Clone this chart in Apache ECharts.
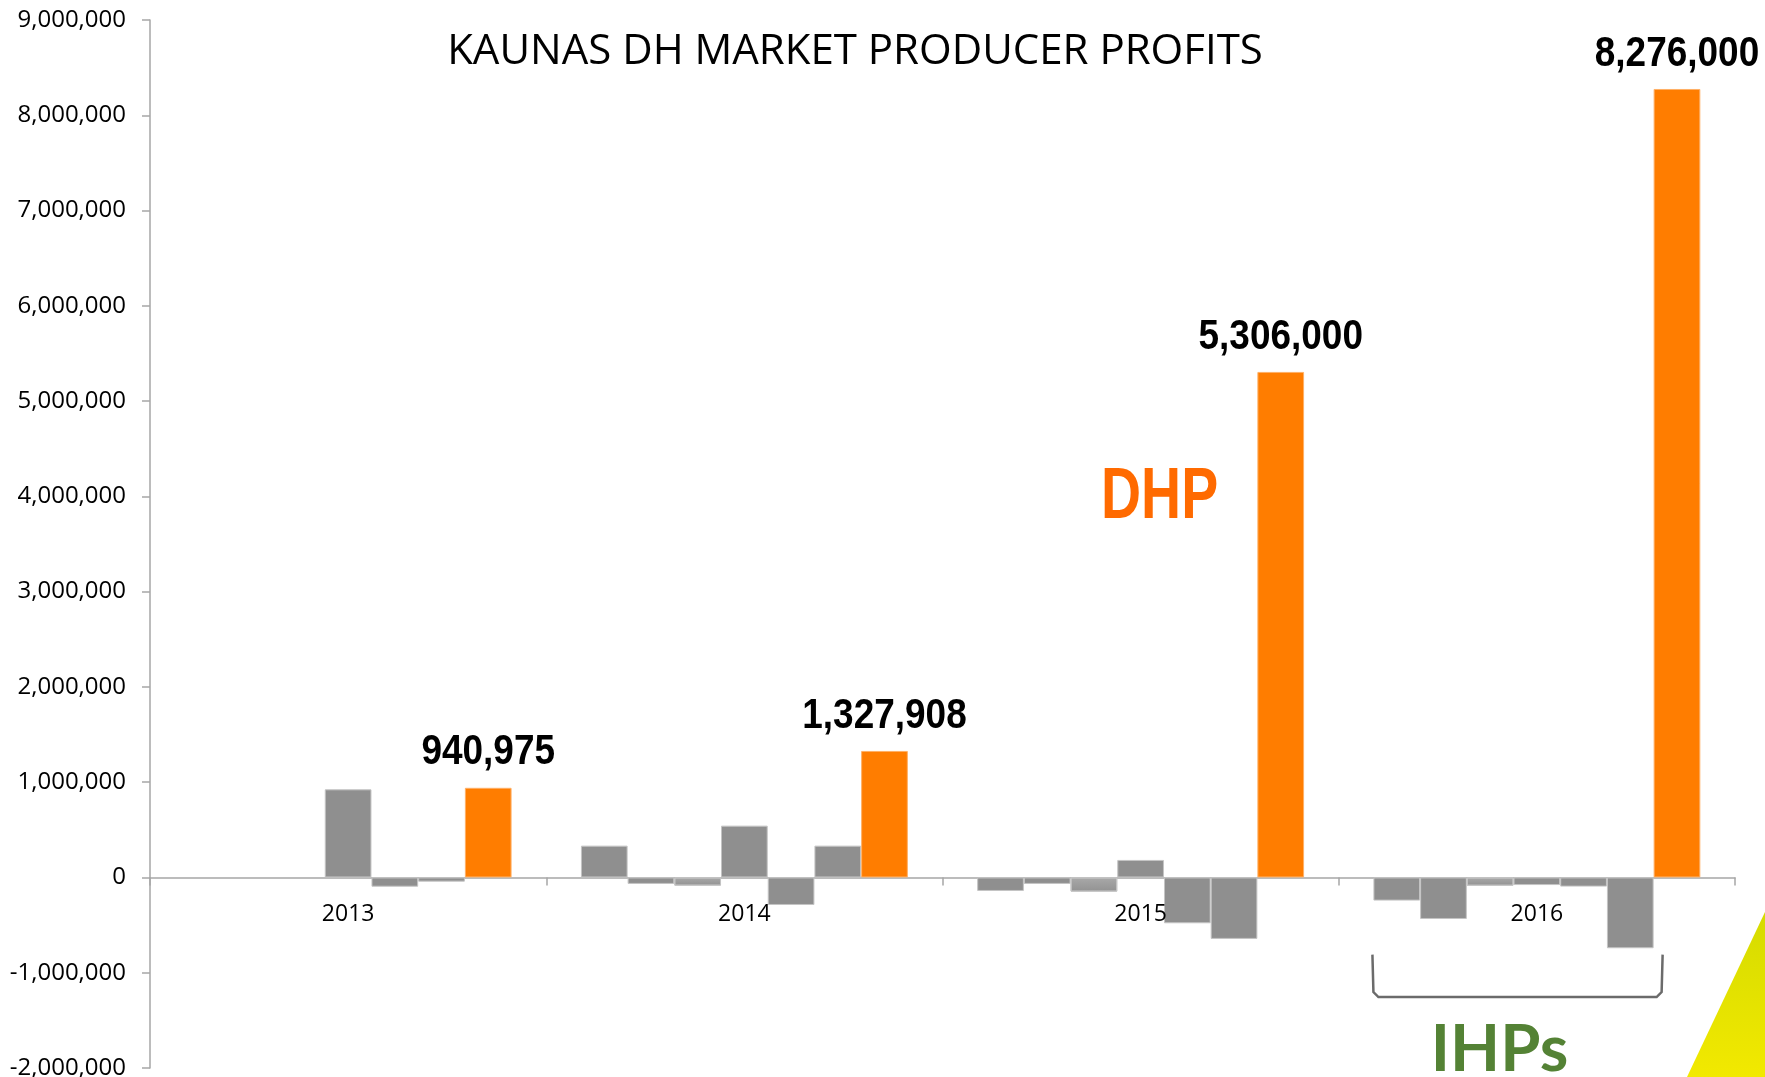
<!DOCTYPE html>
<html>
<head>
<meta charset="utf-8">
<script src="https://cdn.jsdelivr.net/npm/echarts@6/dist/echarts.min.js"></script>
<style>
html,body{margin:0;padding:0;background:#fff;}
#chart{width:1765px;height:1077px;}
</style>
</head>
<body>
<div id="chart"></div>
<script>
// ---- data ----
const categories = ['2013', '2014', '2015', '2016'];
const ihp1 = [null, 334000, -142000, -243000];
const ihp2 = [null, -68000, -68000, -436000];
const ihp3 = [null, -86000, -149000, -87000];
const ihp4 = [925000, 544000, 184000, -80000];
const ihp5 = [-97000, -289000, -481000, -96000];
const ihp6 = [-44000, 334000, -645000, -743000];
const dhp = [940975, 1327908, 5306000, 8276000];
const yTicks = { min: -2000000, max: 9000000, interval: 1000000 };
const titleText = 'KAUNAS DH MARKET PRODUCER PROFITS';

const GRAY = '#8f8f8f';
const ORANGE = '#ff7d00';
const fmt = v => Number(v).toLocaleString('en-US');
const boldFont = "'Liberation Sans', Arial, sans-serif";

const chart = echarts.init(document.getElementById('chart'), null, { renderer: 'canvas' });

function graySeries(name, data, gradient) {
  return {
    name, type: 'bar', data,
    barGap: '0%', barCategoryGap: '17.5%',
    itemStyle: {
      color: gradient ? {
        type: 'linear', x: 0, y: 0, x2: 0, y2: 1,
        colorStops: [{ offset: 0, color: '#a9a9a9' }, { offset: 1, color: '#929292' }]
      } : GRAY,
      borderColor: '#c4c4c4', borderWidth: 1
    },
    silent: true
  };
}

const series = [
  graySeries('IHP1', ihp1),
  graySeries('IHP2', ihp2),
  graySeries('IHP3', ihp3, true),
  graySeries('IHP4', ihp4),
  graySeries('IHP5', ihp5),
  graySeries('IHP6', ihp6),
  {
    name: 'DHP', type: 'bar', data: dhp,
    barGap: '0%', barCategoryGap: '17.5%',
    itemStyle: { color: ORANGE, borderColor: '#ffb066', borderWidth: 1 },
    silent: true
  }
];

const option = {
  animation: false,
  backgroundColor: '#fff',
  grid: { left: 150, right: 30, top: 20, bottom: 9, containLabel: false, outerBoundsMode: 'none' },
  xAxis: {
    type: 'category', data: categories,
    axisLine: { onZero: true, lineStyle: { color: '#a6a6a6', width: 1.5 } },
    axisTick: { show: true, length: 8, lineStyle: { color: '#a6a6a6', width: 1.5 } },
    axisLabel: { show: false },
    splitLine: { show: false }
  },
  yAxis: {
    type: 'value', min: yTicks.min, max: yTicks.max, interval: yTicks.interval,
    axisLine: { show: true, lineStyle: { color: '#a6a6a6', width: 1.5 } },
    axisTick: { show: true, length: 8, lineStyle: { color: '#a6a6a6', width: 1.5 } },
    axisLabel: { fontFamily: "'Open Sans', sans-serif", fontSize: 24, color: '#000', margin: 24, formatter: v => fmt(v) },
    splitLine: { show: false }
  },
  series
};
chart.setOption(option);

// ---- annotations anchored to the chart scales ----
const px = (c, v) => chart.convertToPixel({ xAxisIndex: 0, yAxisIndex: 0 }, [c, v]);
const c16 = px('2016', 0), c15 = px('2015', 0);
const catW = c16[0] - c15[0];
const bw = catW * (1 - 0.175) / 7;
const W = chart.getWidth(), H = chart.getHeight();
const graphics = [];

// title
graphics.push({
  type: 'text', z: 100,
  style: { text: titleText, x: 855, y: 52, align: 'center', verticalAlign: 'middle',
    fontFamily: "'Open Sans', sans-serif", fontSize: 42, fill: '#000' }
});

// category labels just under the zero line
categories.forEach(c => {
  const p = px(c, 0);
  graphics.push({
    type: 'text', z: 100,
    style: { text: c, x: p[0], y: p[1] + 37, align: 'center', verticalAlign: 'middle',
      fontFamily: "'Open Sans', sans-serif", fontSize: 23, fill: '#000' }
  });
});

// DHP value labels (condensed bold look)
categories.forEach((c, i) => {
  const p = px(c, dhp[i]);
  graphics.push({
    type: 'text', z: 100, x: p[0] + 3 * bw, y: p[1] - 35, scaleX: 0.88,
    style: { text: fmt(dhp[i]), x: 0, y: 0, align: 'center', verticalAlign: 'middle',
      fontFamily: boldFont, fontWeight: 'bold', fontSize: 42, fill: '#000' }
  });
});

// DHP annotation
const dhpPos = px('2015', 4000000);
graphics.push({
  type: 'text', z: 100, x: dhpPos[0] + 19, y: dhpPos[1] + 2, scaleX: 0.76,
  style: { text: 'DHP', x: 0, y: 0, align: 'center', verticalAlign: 'middle',
    fontFamily: boldFont, fontWeight: 'bold', fontSize: 73, fill: '#ff6a00' }
});

// IHPs bracket
const bx1 = c16[0] - 3.5 * bw - 1;
const bx2 = c16[0] + 2.5 * bw + 9;
const by1 = px('2016', -810000)[1];
const by2 = px('2016', -1255000)[1];
graphics.push({
  type: 'polyline', z: 100,
  shape: { points: [[bx1, by1], [bx1 + 1, by2 - 5], [bx1 + 6, by2], [bx2 - 6, by2], [bx2 - 1, by2 - 5], [bx2, by1]] },
  style: { stroke: '#6b6b6b', lineWidth: 2.5, fill: null }
});
graphics.push({
  type: 'text', z: 100,
  style: { text: 'IHPs', x: (bx1 + bx2) / 2 - 18, y: 1050, align: 'center', verticalAlign: 'middle',
    fontFamily: "Lato, 'Open Sans', sans-serif", fontWeight: 'bold', fontSize: 65, fill: '#548235' }
});

// decorative yellow corner
graphics.push({
  type: 'polygon', z: 100,
  shape: { points: [[W, 912], [W - 78, H], [W, H]] },
  style: { fill: { type: 'linear', x: 0, y: 0, x2: 0, y2: 1,
    colorStops: [{ offset: 0, color: '#d5db00' }, { offset: 1, color: '#f2e900' }] } }
});

chart.setOption({ graphic: graphics });
</script>
</body>
</html>
